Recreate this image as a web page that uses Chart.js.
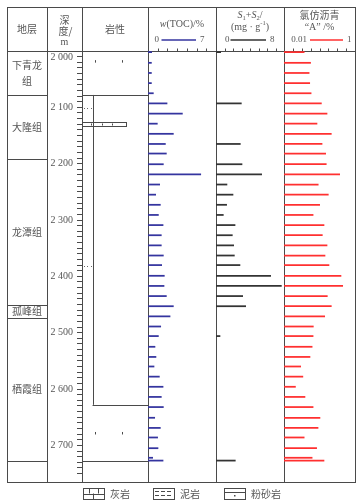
<!DOCTYPE html>
<html>
<head>
<meta charset="utf-8">
<script src="https://cdn.jsdelivr.net/npm/chart.js@4.4.0/dist/chart.umd.min.js"></script>
<style>
  html, body { margin: 0; padding: 0; background: #fff; }
  #wrap { position: relative; width: 361px; height: 504px; }
</style>
</head>
<body>
<div id="wrap"><canvas id="column-chart" width="361" height="504"></canvas></div>
<script>
// sample depths (m) and the three geochemical series
const sampleDepths = [2002, 2021, 2039, 2057, 2075, 2093, 2111, 2129, 2147, 2165,
  2182, 2201, 2219, 2237, 2255, 2273, 2291, 2309, 2327, 2345,
  2363, 2380, 2399, 2417, 2435, 2453, 2471, 2489, 2506, 2525,
  2543, 2560, 2578, 2596, 2614, 2632, 2651, 2669, 2686, 2705,
  2722, 2727];
const tocValues = [0.38, 0.35, 0.35, 0.35, 0.55, 1.96, 3.54, 0.96, 2.61, 1.79,
  1.89, 1.58, 5.43, 1.2, 0.79, 1.27, 1.07, 1.55, 1.37, 1.37,
  1.58, 1.41, 1.68, 1.65, 1.89, 2.61, 2.27, 1.31, 1.07, 0.72,
  0.82, 0.62, 1.17, 1.55, 1.37, 1.58, 0.69, 1.27, 0.99, 1.03,
  0.48, 1.55];
const asphaltValues = [0.037, 0.056, 0.051, 0.053, 0.058, 0.113, 0.163, 0.085, 0.215, 0.118,
  0.149, 0.155, 0.37, 0.092, 0.177, 0.101, 0.066, 0.134, 0.12, 0.163,
  0.143, 0.185, 0.403, 0.45, 0.166, 0.215, 0.14, 0.067, 0.066, 0.062,
  0.054, 0.0295, 0.034, 0.021, 0.039, 0.066, 0.103, 0.091, 0.037, 0.083,
  0.062, 0.134];
const sDepths = [2002, 2093, 2165, 2201, 2219, 2237, 2255, 2273, 2291, 2309,
  2327, 2345, 2363, 2380, 2399, 2417, 2435, 2453, 2506, 2727];
const sValues = [0.55, 2.98, 2.86, 3.06, 5.37, 1.29, 2.0, 1.25, 0.86, 2.24,
  1.92, 2.08, 2.16, 2.82, 6.43, 7.69, 3.14, 3.49, 0.47, 2.27];

// formations (top depths)
const formationNames = ['下青龙\n组', '大隆组', '龙潭组', '孤峰组', '栖霞组', ''];
const formationTops = [2000, 2078, 2192, 2450, 2474, 2728];

// lithology boundaries
const lithTop = 2078;
const lithNarrowBottom = 2628;
const lithBottom = 2727;
const mudBand = [2126, 2134];
const siltDots = [2102, 2381];
const limeMarks = [2018, 2678];

const depthMin = 2000;
const depthMax = 2765;
const tocMax = 7;
const sMax = 8;
const asphaltRange = [0.01, 1];
const legendNames = ['灰岩', '泥岩', '粉砂岩'];

const INK = '#4a4a4a';
const TEXT = '#555555';
const BLUE = '#34349f';
const RED = '#ff3030';
const DARK = '#333333';
const SERIF = '"Liberation Serif", "DejaVu Serif", serif';
const CJK = '"Noto Sans CJK SC", sans-serif';

function hLine(ctx, x1, x2, y) {
  const yy = Math.round(y) + 0.5;
  ctx.beginPath(); ctx.moveTo(x1, yy); ctx.lineTo(x2, yy); ctx.stroke();
}
function vLine(ctx, x, y1, y2) {
  const xx = Math.round(x) + 0.5;
  ctx.beginPath(); ctx.moveTo(xx, y1); ctx.lineTo(xx, y2); ctx.stroke();
}

// draws runs of text (italic / sub / sup) centered on cx
function drawRuns(ctx, runs, cx, y, size) {
  const fontFor = r => (r.italic ? 'italic ' : '') + (r.sub || r.sup ? size * 0.65 : size) + 'px ' + SERIF;
  let total = 0;
  runs.forEach(r => { ctx.font = fontFor(r); total += ctx.measureText(r.t).width; });
  let x = cx - total / 2;
  ctx.textAlign = 'left';
  runs.forEach(r => {
    ctx.font = fontFor(r);
    const dy = r.sub ? 3 : r.sup ? -3.5 : 0;
    ctx.fillText(r.t, x, y + dy);
    x += ctx.measureText(r.t).width;
  });
}

const tablePlugin = {
  id: 'columnTable',
  beforeDatasetsDraw(chart) {
    const { ctx, chartArea: ca, scales } = chart;
    const y = scales.y, xL = scales.xL, xT = scales.xT, xS = scales.xS, xA = scales.xA;
    const py = d => y.getPixelForValue(d);
    const left = 7, top = 7, right = xA.right;
    ctx.save();
    ctx.strokeStyle = INK;
    ctx.lineWidth = 1;

    // frame and column lines
    hLine(ctx, left, right + 1, top);
    hLine(ctx, left, right + 1, ca.top);
    hLine(ctx, left, right + 1, ca.bottom);
    [left, y.left, xL.left, xT.left, xS.left, xA.left, right].forEach(x => vLine(ctx, x, top, ca.bottom + 1));

    // formation column
    ctx.fillStyle = TEXT;
    ctx.textAlign = 'center';
    ctx.textBaseline = 'middle';
    ctx.font = '10px ' + CJK;
    formationTops.forEach((d, i) => {
      if (i > 0) hLine(ctx, left, y.left, py(d));
      const next = i < formationTops.length - 1 ? py(formationTops[i + 1]) : ca.bottom;
      const mid = (py(d) + next) / 2;
      const lines = formationNames[i].split('\n');
      lines.forEach((t, k) => {
        ctx.fillText(t, (left + y.left) / 2, mid + (k - (lines.length - 1) / 2) * 16.5);
      });
    });

    // depth label 2 000 sits just below the header line
    ctx.font = '10px ' + SERIF;
    ctx.textAlign = 'right';
    ctx.fillText('2 000', xL.left - 9, py(depthMin) + 6.5);

    // lithology column
    const lx = f => xL.left + f * (xL.right - xL.left);
    hLine(ctx, xL.left, xL.right, py(lithTop));
    vLine(ctx, lx(0.16), py(lithTop), py(lithNarrowBottom));
    hLine(ctx, lx(0.16), xL.right, py(lithNarrowBottom));
    hLine(ctx, xL.left, xL.right, py(lithBottom));
    limeMarks.forEach(d => {
      [0.2, 0.61].forEach(f => vLine(ctx, lx(f), py(d) - 1, py(d) + 1.5));
    });
    ctx.fillStyle = '#666';
    siltDots.forEach(d => {
      [0.03, 0.08, 0.13].forEach(f => ctx.fillRect(Math.round(lx(f)), Math.round(py(d)), 1, 1));
    });
    const b0 = Math.round(py(mudBand[0])) + 0.5, b1 = Math.round(py(mudBand[1])) + 0.5;
    ctx.strokeRect(Math.round(xL.left) + 0.5, b0, Math.round(lx(0.67) - xL.left), b1 - b0);
    [0.13, 0.3, 0.46].forEach(f => vLine(ctx, lx(f), b0 + 1, b1 - 1));

    // header titles
    ctx.fillStyle = TEXT;
    ctx.textAlign = 'center';
    ctx.font = '10px ' + CJK;
    ctx.fillText('地层', (left + y.left) / 2, (top + ca.top) / 2);
    ctx.fillText('岩性', (xL.left + xL.right) / 2, (top + ca.top) / 2);
    const dc = (y.left + xL.left) / 2;
    ctx.fillText('深', dc, 20);
    ctx.fillText('度/', dc + 1, 31);
    ctx.font = '10px ' + SERIF;
    ctx.fillText('m', dc, 42);

    ctx.fillStyle = TEXT;
    const tc = (xT.left + xT.right) / 2;
    drawRuns(ctx, [{ t: 'w', italic: true }, { t: '(TOC)/%' }], tc, 24, 10);
    const sc = (xS.left + xS.right) / 2;
    drawRuns(ctx, [{ t: 'S', italic: true }, { t: '1', sub: true }, { t: '+' }, { t: 'S', italic: true }, { t: '2', sub: true }, { t: '/' }], sc, 15, 10);
    drawRuns(ctx, [{ t: '(mg · g' }, { t: '-1', sup: true }, { t: ')' }], sc, 27, 10);
    const ac = (xA.left + xA.right) / 2;
    ctx.font = '10px ' + CJK;
    ctx.textAlign = 'center';
    ctx.fillText('氯仿沥青', ac, 15);
    drawRuns(ctx, [{ t: '\u201cA\u201d /%' }], ac, 27, 10);

    // mini scale legends in header
    const legendY = 40;
    const miniLegend = (scale, lo, hi, color, loX, l1, l2, hiX) => {
      ctx.font = '9px ' + SERIF;
      ctx.fillStyle = TEXT;
      ctx.textAlign = 'right';
      ctx.fillText(lo, scale.left + loX, legendY);
      ctx.textAlign = 'left';
      ctx.fillText(hi, scale.left + hiX, legendY);
      ctx.save();
      ctx.strokeStyle = color;
      ctx.lineWidth = 1.5;
      ctx.beginPath();
      ctx.moveTo(scale.left + l1, legendY);
      ctx.lineTo(scale.left + l2, legendY);
      ctx.stroke();
      ctx.restore();
    };
    miniLegend(xT, '0', String(tocMax), BLUE, 11, 13.5, 48, 52);
    miniLegend(xS, '0', String(sMax), DARK, 13.5, 14.5, 50, 54);
    miniLegend(xA, String(asphaltRange[0]), String(asphaltRange[1]), RED, 23, 26, 59, 63);

    // small ticks on header line
    for (let v = 1; v <= tocMax; v++) vLine(ctx, xT.getPixelForValue(v), ca.top - 2.5, ca.top);
    for (let v = 1; v <= sMax; v++) vLine(ctx, xS.getPixelForValue(v), ca.top - 2.5, ca.top);
    for (let k = 1; k <= 8; k++) {
      const v = Math.pow(10, Math.log10(asphaltRange[0]) + k * 2 / 8);
      vLine(ctx, xA.getPixelForValue(v), ca.top - 2.5, ca.top);
    }

    // bottom lithology legend
    const ly = 488, lh = 11, lw = 21;
    const icons = [83, 153, 224];
    icons.forEach((x0, i) => {
      ctx.strokeStyle = INK;
      ctx.strokeRect(x0 + 0.5, ly + 0.5, lw, lh);
      if (i === 0) {
        hLine(ctx, x0, x0 + lw, ly + lh / 2);
        vLine(ctx, x0 + 6, ly, ly + lh / 2);
        vLine(ctx, x0 + 15, ly, ly + lh / 2);
        vLine(ctx, x0 + 10, ly + lh / 2, ly + lh);
      } else if (i === 1) {
        [ly + 3, ly + 7].forEach(yy => {
          ctx.beginPath();
          ctx.setLineDash([4, 2]);
          ctx.moveTo(x0 + 2, yy + 0.5);
          ctx.lineTo(x0 + lw - 1, yy + 0.5);
          ctx.stroke();
          ctx.setLineDash([]);
        });
      } else {
        hLine(ctx, x0, x0 + lw, ly + 4);
        ctx.fillStyle = INK;
        ctx.fillRect(x0 + 10, ly + 7, 1.5, 1.5);
      }
      ctx.fillStyle = TEXT;
      ctx.font = '10px ' + CJK;
      ctx.textAlign = 'left';
      ctx.textBaseline = 'middle';
      ctx.fillText(legendNames[i], x0 + lw + 6, ly + lh / 2 + 0.5);
    });
    ctx.restore();
  }
};

const hiddenX = (weight, extra) => Object.assign({
  type: 'linear',
  position: 'bottom',
  stack: 'columns',
  stackWeight: weight,
  offset: false,
  display: true,
  ticks: { display: false },
  grid: { display: false, drawTicks: false },
  border: { display: false }
}, extra);

const ctx = document.getElementById('column-chart').getContext('2d');
new Chart(ctx, {
  type: 'bar',
  data: {
    datasets: [
      {
        label: 'w(TOC)/%',
        xAxisID: 'xT',
        yAxisID: 'y',
        data: sampleDepths.map((d, i) => ({ x: tocValues[i], y: d })),
        backgroundColor: BLUE
      },
      {
        label: 'S1+S2',
        xAxisID: 'xS',
        yAxisID: 'y',
        data: sDepths.map((d, i) => ({ x: sValues[i], y: d })),
        backgroundColor: DARK
      },
      {
        label: '氯仿沥青A',
        xAxisID: 'xA',
        yAxisID: 'y',
        data: sampleDepths.map((d, i) => ({ x: asphaltValues[i], y: d })),
        backgroundColor: RED
      }
    ]
  },
  options: {
    responsive: false,
    animation: false,
    indexAxis: 'y',
    grouped: false,
    barThickness: 1.1,
    layout: { padding: { left: 47, right: 6, top: 51, bottom: 22 } },
    plugins: {
      legend: { display: false },
      tooltip: { enabled: false }
    },
    scales: {
      y: {
        type: 'linear',
        position: 'left',
        reverse: true,
        offset: false,
        min: depthMin,
        max: depthMax,
        afterFit: scale => { scale.width = 35; },
        ticks: {
          stepSize: 10,
          autoSkip: false,
          padding: 4,
          color: TEXT,
          font: { family: SERIF, size: 10 },
          callback: v => (v % 100 === 0 && v !== depthMin) ? String(v).replace(/^(\d)(\d{3})$/, '$1 $2') : ''
        },
        grid: { drawOnChartArea: false, offset: false, tickLength: 5, color: INK },
        border: { display: false }
      },
      xL: hiddenX(66, { min: 0, max: 1 }),
      xT: hiddenX(68, { min: 0, max: tocMax }),
      xS: hiddenX(68, { min: 0, max: sMax }),
      xA: hiddenX(71, { type: 'logarithmic', min: asphaltRange[0], max: asphaltRange[1] })
    }
  },
  plugins: [tablePlugin]
});
</script>
</body>
</html>
